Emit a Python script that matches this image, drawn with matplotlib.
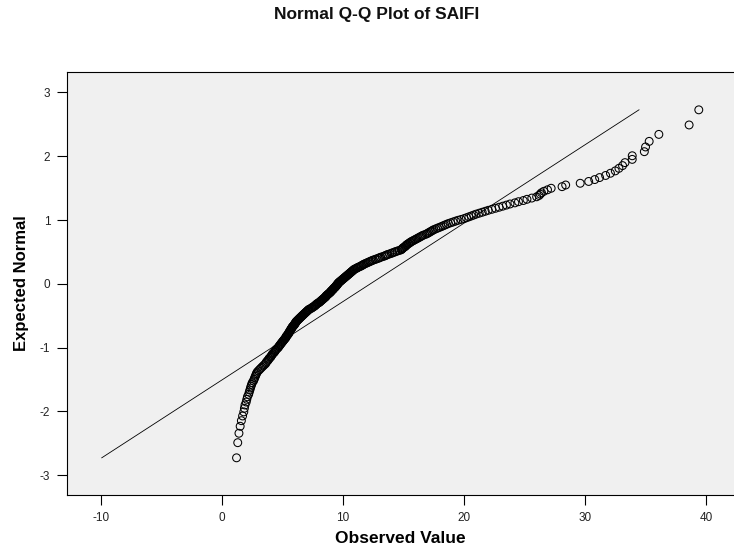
import matplotlib
matplotlib.use("Agg")
import matplotlib.pyplot as plt
from statistics import NormalDist

# Observed SAIFI values, sorted ascending
saifi = [
    1.2, 1.3, 1.4, 1.5, 1.6, 1.7, 1.8, 1.85, 1.9, 2.0,
    2.05, 2.1, 2.2, 2.25, 2.3, 2.35, 2.4, 2.45, 2.5, 2.6,
    2.65, 2.7, 2.75, 2.8, 2.85, 2.9, 3.0, 3.1, 3.2, 3.3,
    3.4, 3.5, 3.6, 3.65, 3.7, 3.8, 3.85, 3.9, 4.0, 4.05,
    4.1, 4.15, 4.2, 4.3, 4.35, 4.4, 4.45, 4.5, 4.6, 4.65,
    4.7, 4.75, 4.8, 4.85, 4.9, 4.95, 5.0, 5.05, 5.1, 5.15,
    5.2, 5.25, 5.3, 5.3, 5.35, 5.4, 5.45, 5.5, 5.5, 5.55,
    5.6, 5.6, 5.65, 5.7, 5.7, 5.75, 5.8, 5.8, 5.85, 5.9,
    5.95, 6.0, 6.0, 6.05, 6.1, 6.1, 6.15, 6.2, 6.25, 6.3,
    6.35, 6.4, 6.45, 6.5, 6.55, 6.6, 6.65, 6.7, 6.75, 6.8,
    6.85, 6.9, 6.95, 7.0, 7.05, 7.1, 7.15, 7.2, 7.3, 7.4,
    7.45, 7.5, 7.6, 7.65, 7.7, 7.75, 7.8, 7.85, 7.9, 8.0,
    8.05, 8.1, 8.15, 8.2, 8.25, 8.3, 8.35, 8.4, 8.45, 8.5,
    8.55, 8.6, 8.6, 8.65, 8.7, 8.75, 8.8, 8.85, 8.9, 8.95,
    9.0, 9.0, 9.05, 9.1, 9.15, 9.2, 9.2, 9.25, 9.3, 9.35,
    9.4, 9.4, 9.45, 9.5, 9.5, 9.55, 9.6, 9.6, 9.65, 9.7,
    9.75, 9.8, 9.85, 9.9, 9.95, 10.0, 10.05, 10.1, 10.15, 10.2,
    10.25, 10.3, 10.35, 10.4, 10.45, 10.5, 10.55, 10.6, 10.65, 10.7,
    10.75, 10.8, 10.85, 10.9, 10.95, 11.05, 11.15, 11.2, 11.3, 11.4,
    11.5, 11.55, 11.65, 11.7, 11.8, 11.9, 12.0, 12.1, 12.2, 12.3,
    12.4, 12.5, 12.65, 12.75, 12.9, 13.0, 13.1, 13.25, 13.4, 13.5,
    13.6, 13.7, 13.85, 14.0, 14.1, 14.25, 14.35, 14.5, 14.65, 14.8,
    14.85, 14.9, 14.95, 15.0, 15.1, 15.15, 15.2, 15.25, 15.3, 15.4,
    15.45, 15.55, 15.6, 15.7, 15.8, 15.9, 16.0, 16.1, 16.2, 16.3,
    16.4, 16.5, 16.6, 16.75, 16.9, 17.0, 17.1, 17.2, 17.3, 17.4,
    17.5, 17.65, 17.8, 17.95, 18.1, 18.25, 18.4, 18.55, 18.7, 18.9,
    19.1, 19.3, 19.5, 19.75, 20.0, 20.2, 20.4, 20.6, 20.8, 21.0,
    21.25, 21.5, 21.75, 22.0, 22.3, 22.6, 22.9, 23.2, 23.5, 23.8,
    24.2, 24.5, 24.9, 25.2, 25.6, 26.0, 26.2, 26.3, 26.4, 26.6,
    26.9, 27.2, 28.1, 28.4, 29.6, 30.3, 30.8, 31.2, 31.7, 32.1,
    32.5, 32.8, 33.1, 33.3, 33.9, 33.9, 34.9, 35.0, 35.3, 36.1,
    38.6, 39.4,
]

# Reference line parameters (mean and standard deviation of SAIFI)
saifi_mean = 12.26
saifi_sd = 8.14

x_ticks = [-10, 0, 10, 20, 30, 40]
y_ticks = [-3, -2, -1, 0, 1, 2, 3]

# Expected normal scores from ranks (Van der Waerden: r / (n + 1))
n = len(saifi)
nd = NormalDist()
expected = [nd.inv_cdf(r / (n + 1)) for r in range(1, n + 1)]

plt.rcParams["font.family"] = ["Liberation Sans", "DejaVu Sans"]

W, H = 734, 553
fig = plt.figure(figsize=(W / 100, H / 100), dpi=100)
fig.patch.set_facecolor("white")

left, right, top, bottom = 67, 734, 72, 495
ax = fig.add_axes([left / W, 1 - bottom / H, (right - left) / W, (bottom - top) / H])
ax.set_facecolor("#f0f0f0")

# Reference line spanning the range of expected normal scores
z_lo, z_hi = expected[0], expected[-1]
ax.plot([saifi_mean + z_lo * saifi_sd, saifi_mean + z_hi * saifi_sd], [z_lo, z_hi],
        color="black", linewidth=0.6, zorder=2)

ax.scatter(saifi, expected, s=32, facecolors="none", edgecolors="black",
           linewidths=0.75, zorder=3)

ax.set_xlim(-12.81, 42.31)
ax.set_ylim(-3.31, 3.32)
ax.set_xticks(x_ticks)
ax.set_yticks(y_ticks)
ax.set_xticklabels([str(v) for v in x_ticks])
ax.set_yticklabels([str(v) for v in y_ticks])

for s in ["left", "bottom", "top"]:
    ax.spines[s].set_color("black")
    ax.spines[s].set_linewidth(0.8)
ax.spines["right"].set_visible(False)

ax.tick_params(axis="both", direction="out", length=7, width=0.8, color="black",
               labelsize=8.5, labelcolor="#222222", pad=5)

ax.set_xlabel("Observed Value", fontsize=12.5, fontweight="bold", labelpad=5)
ax.set_ylabel("Expected Normal", fontsize=12, fontweight="bold", labelpad=8)

fig.text(377 / W, 1 - 15 / H, "Normal Q-Q Plot of SAIFI", ha="center", va="center",
         fontsize=12.5, fontweight="bold", color="#111111")

fig.savefig("out.png", dpi=100)
